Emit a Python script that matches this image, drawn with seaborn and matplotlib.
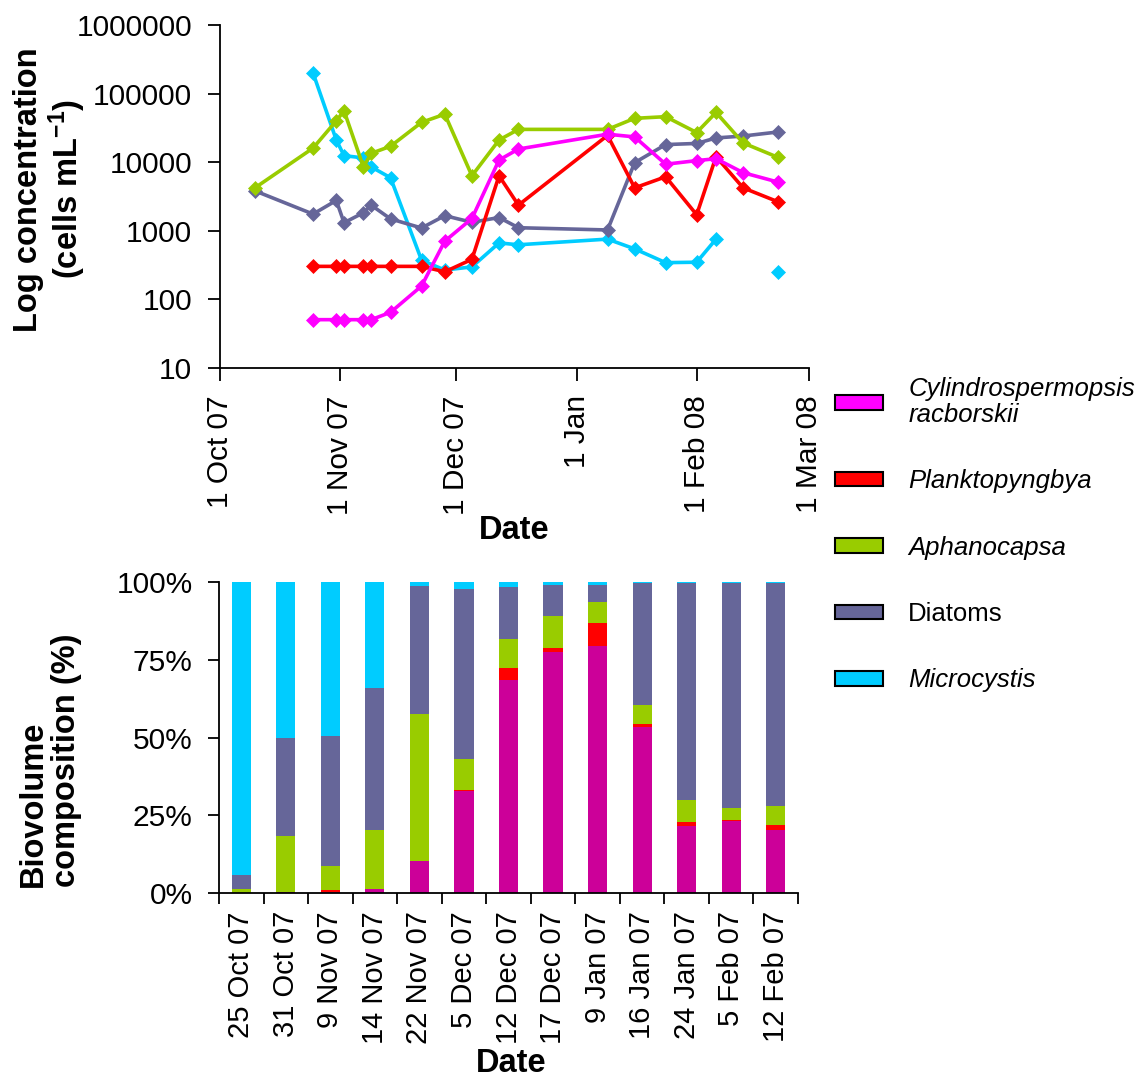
import numpy as np
import pandas as pd
import matplotlib
matplotlib.use("Agg")
import matplotlib.pyplot as plt
from matplotlib.patches import Patch
from matplotlib.ticker import FixedLocator, NullLocator
import seaborn as sns

# ---------------- data: top panel (cells per mL) ----------------
sample_dates = ['2007-10-10', '2007-10-25', '2007-10-31', '2007-11-02', '2007-11-07',
                '2007-11-09', '2007-11-14', '2007-11-22', '2007-11-28', '2007-12-05',
                '2007-12-12', '2007-12-17', '2008-01-09', '2008-01-16', '2008-01-24',
                '2008-02-01', '2008-02-06', '2008-02-13', '2008-02-22']
nan = np.nan
cylindro_conc = [nan, 50, 50, 50, 50, 50, 64, 155, 700, 1500,
                 10700, 15500, 25500, 23300, 9300, 10500, 11200, 7000, 5100]
plankto_conc = [nan, 300, 300, 300, 300, 300, 300, 300, 250, 380,
                6300, 2350, 24500, 4200, 6100, 1700, 12000, 4200, 2630]
aphano_conc = [4200, 16000, 40000, 56000, 8500, 13400, 17000, 38000, 50000, 6300,
               21000, 30000, 30000, 43500, 46000, 27000, 53000, 19000, 11700]
diatom_conc = [3800, 1740, 2750, 1300, 1820, 2350, 1480, 1090, 1650, 1320,
               1550, 1100, 1020, 9800, 18000, 18700, 22500, 24000, 27500]
micro_conc = [nan, 200000, 21000, 12400, 11500, 8500, 5900, 370, 265, 295,
              660, 620, 750, 540, 340, 345, 750, nan, 245]

month_ticks = ['2007-10-01', '2007-11-01', '2007-12-01', '2008-01-01', '2008-02-01', '2008-03-01']
month_labels = ['1 Oct 07', '1 Nov 07', '1 Dec 07', '1 Jan', '1 Feb 08', '1 Mar 08']
log_ticks = [10, 100, 1000, 10000, 100000, 1000000]
log_labels = ['10', '100', '1000', '10000', '100000', '1000000']

# ---------------- data: bottom panel (biovolume %) ----------------
bar_dates = ['25 Oct 07', '31 Oct 07', '9 Nov 07', '14 Nov 07', '22 Nov 07', '5 Dec 07',
             '12 Dec 07', '17 Dec 07', '9 Jan 07', '16 Jan 07', '24 Jan 07', '5 Feb 07', '12 Feb 07']
cylindro_pct = [0.0, 0.4, 0.4, 1.4, 10.2, 32.8, 68.6, 77.5, 79.4, 53.5, 21.6, 23.1, 20.2]
plankto_pct = [0.0, 0.0, 0.7, 0.0, 0.2, 0.2, 3.7, 1.2, 7.3, 0.8, 1.3, 0.4, 1.7]
aphano_pct = [1.4, 17.8, 7.5, 19.0, 47.3, 10.2, 9.3, 10.3, 6.8, 6.1, 7.0, 3.9, 6.1]
diatom_pct = [4.3, 31.5, 42.0, 45.4, 41.0, 54.4, 16.7, 9.9, 5.4, 39.3, 69.8, 72.3, 71.7]
micro_pct = [94.3, 50.3, 49.4, 34.2, 1.3, 2.4, 1.7, 1.1, 1.1, 0.3, 0.3, 0.3, 0.3]
pct_ticks = [0, 25, 50, 75, 100]
pct_labels = ['0%', '25%', '50%', '75%', '100%']

legend_labels = ['Cylindrospermopsis\nracborskii', 'Planktopyngbya', 'Aphanocapsa', 'Diatoms', 'Microcystis']

# ---------------- styling ----------------
sns.set_style('ticks')
plt.rcParams['font.family'] = ['Liberation Sans', 'DejaVu Sans']
plt.rcParams.update({'axes.linewidth': 1.3, 'text.color': 'black', 'axes.labelcolor': 'black',
                     'xtick.color': 'black', 'ytick.color': 'black', 'axes.edgecolor': 'black',
                     'mathtext.fontset': 'custom', 'mathtext.rm': 'Liberation Sans',
                     'mathtext.bf': 'Liberation Sans:bold', 'mathtext.it': 'Liberation Sans:italic'})

C_MAG = '#FF00FF'
C_MAG_BAR = '#CC0099'
C_RED = '#FF0000'
C_GRN = '#99CC00'
C_DIA = '#666699'
C_CYA = '#00CCFF'
FS = 21.5
LFS = 23.5

fig = plt.figure(figsize=(11.39, 10.81), dpi=100)
ax1 = fig.add_axes([0.1932, 0.6600, 0.5171, 0.3168])
ax2 = fig.add_axes([0.1923, 0.1739, 0.5083, 0.2877])

# ---------------- top panel ----------------
dates = pd.to_datetime(sample_dates)
series = [(micro_conc, C_CYA), (diatom_conc, C_DIA), (aphano_conc, C_GRN),
          (plankto_conc, C_RED), (cylindro_conc, C_MAG)]
for vals, col in series:
    v = np.array(vals, dtype=float)
    segment = np.cumsum(np.isnan(v))  # a missing sample breaks the line
    df = pd.DataFrame({'date': dates, 'conc': v, 'segment': segment}).dropna()
    sns.lineplot(data=df, x='date', y='conc', units='segment', ax=ax1, color=col,
                 marker='D', markersize=7.5, markeredgecolor=col, markeredgewidth=0.5,
                 linewidth=2.6, estimator=None, legend=False)

ax1.set_yscale('log')
ax1.set_ylim(10, 1e6)
ax1.yaxis.set_major_locator(FixedLocator(log_ticks))
ax1.yaxis.set_minor_locator(NullLocator())
ax1.set_yticklabels(log_labels)
ax1.set_xlim(pd.Timestamp('2007-10-01'), pd.Timestamp('2008-03-01'))
ax1.set_xticks(pd.to_datetime(month_ticks))
ax1.set_xticklabels(month_labels, rotation=90)
ax1.xaxis.set_minor_locator(NullLocator())
ax1.tick_params(axis='both', direction='out', length=9, width=1.3, labelsize=FS)
ax1.tick_params(axis='x', pad=11)
ax1.tick_params(axis='y', pad=11)
sns.despine(ax=ax1)
ax1.set_xlabel('Date', fontsize=LFS, fontweight='bold')
ax1.xaxis.set_label_coords(0.5, -0.43)
ax1.set_ylabel('Log concentration\n(cells $\\mathbf{mL^{-1}}$)', fontsize=LFS,
               fontweight='bold', linespacing=1.1)
ax1.yaxis.set_label_coords(-0.288, 0.52)
ax1.yaxis.label.set_verticalalignment('center')

# ---------------- bottom panel (stacked 100% bars) ----------------
stack = [cylindro_pct, plankto_pct, aphano_pct, diatom_pct, micro_pct]
bar_colors = [C_MAG_BAR, C_RED, C_GRN, C_DIA, C_CYA]
cum = np.cumsum(np.array(stack, dtype=float), axis=0)
for level in range(len(stack) - 1, -1, -1):
    sns.barplot(x=bar_dates, y=cum[level], order=bar_dates, color=bar_colors[level],
                saturation=1, width=0.43, linewidth=0, ax=ax2, errorbar=None)

ax2.set_ylim(0, 100)
ax2.set_yticks(pct_ticks)
ax2.set_yticklabels(pct_labels)
ax2.set_xlim(-0.5, len(bar_dates) - 0.5)
ax2.set_xticks(range(len(bar_dates)))
ax2.set_xticklabels(bar_dates, rotation=90)
ax2.set_xticks(np.arange(-0.5, len(bar_dates)), minor=True)
ax2.tick_params(axis='x', which='major', length=0, pad=13, labelsize=21)
ax2.tick_params(axis='x', which='minor', length=8, width=1.3)
ax2.tick_params(axis='y', direction='out', length=8, width=1.3, labelsize=FS, pad=11)
sns.despine(ax=ax2)
ax2.set_xlabel('Date', fontsize=LFS, fontweight='bold')
ax2.xaxis.set_label_coords(0.504, -0.497)
ax2.set_ylabel('Biovolume\ncomposition (%)', fontsize=LFS, fontweight='bold',
               linespacing=1.1, multialignment='left')
ax2.yaxis.set_label_coords(-0.292, 0.428)
ax2.yaxis.label.set_verticalalignment('center')

# ---------------- legend ----------------
handles = [Patch(facecolor=c, edgecolor='black', linewidth=1.5)
           for c in [C_MAG, C_RED, C_GRN, C_DIA, C_CYA]]
leg = fig.legend(handles, legend_labels, loc='upper left',
                 bbox_to_anchor=(835 / 1139, 1 - 377 / 1081), frameon=False,
                 fontsize=18.5, handlelength=1.85, handleheight=0.5, handletextpad=1.0,
                 labelspacing=1.65, borderpad=0, borderaxespad=0)
for t in leg.get_texts():
    t.set_linespacing(1.1)
    if t.get_text() != 'Diatoms':
        t.set_fontstyle('italic')

fig.savefig('out.png', dpi=100)
